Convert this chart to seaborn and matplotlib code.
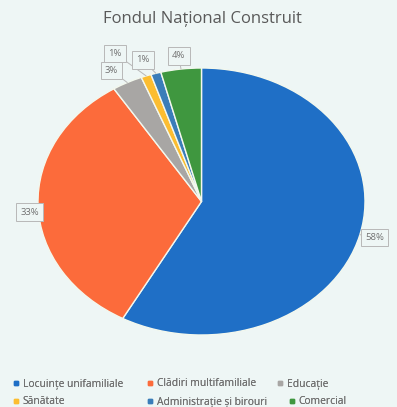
import matplotlib
matplotlib.use("Agg")
import matplotlib.pyplot as plt
import seaborn as sns
import numpy as np

categories = ["Locuințe unifamiliale", "Clădiri multifamiliale", "Educație",
              "Sănătate", "Administrație și birouri", "Comercial"]
shares = [58, 33, 3, 1, 1, 4]
pct_labels = ["58%", "33%", "3%", "1%", "1%", "4%"]
colors = ["#1f6fc6", "#fc6b3b", "#a8a6a4", "#fcbd30", "#3a7db9", "#3f973f"]

# label box positions (in pie data coordinates, unit circle)
label_pos = [(1.06, -0.27), (-1.05, -0.08), (-0.55, 0.98), (-0.53, 1.11),
             (-0.36, 1.06), (-0.14, 1.09)]

sns.set_theme(style="white")
plt.rcParams["font.family"] = ["Open Sans", "DejaVu Sans"]

bg = "#eef6f5"
W, H = 397, 407
fig = plt.figure(figsize=(W / 100, H / 100), dpi=100, facecolor=bg)

left, right, top, bottom = 38, 365, 68, 335
ax = fig.add_axes([left / W, (H - bottom) / H, (right - left) / W, (bottom - top) / H])
ax.set_facecolor(bg)

wedges, _ = ax.pie(shares, colors=colors, startangle=90, counterclock=False,
                   wedgeprops=dict(edgecolor="#f3f8ee", linewidth=1.0))
ax.set_aspect("auto")
ax.set_xlim(-1, 1)
ax.set_ylim(-1, 1)
ax.axis("off")

for w, lab, (lx, ly) in zip(wedges, pct_labels, label_pos):
    ang = np.deg2rad((w.theta1 + w.theta2) / 2)
    ex, ey = np.cos(ang), np.sin(ang)
    ax.annotate(lab, xy=(ex, ey), xytext=(lx, ly), ha="center", va="center",
                fontsize=6.8, color="#707070", annotation_clip=False,
                bbox=dict(boxstyle="square,pad=0.45", fc=bg, ec="#b8b8b8", lw=0.7),
                arrowprops=dict(arrowstyle="-", color="#b8b8b8", lw=0.7,
                                shrinkA=0, shrinkB=0))

fig.text(0.51, 1 - 19 / H, "Fondul Național Construit", ha="center", va="center",
         fontsize=12, color="#595959")

# legend entries laid out in two rows beneath the pie
legend_xy = [(12, 384), (146, 384), (276, 384), (12, 402), (146, 402), (288, 402)]
for i, (lx, ly) in enumerate(legend_xy):
    h = plt.Line2D([], [], marker="s", linestyle="", markersize=3.2,
                   markerfacecolor=colors[i], markeredgecolor=colors[i])
    fig.add_artist(fig.legend([h], [categories[i]], loc="center left",
                              bbox_to_anchor=(lx / W, 1 - ly / H), frameon=False,
                              fontsize=7.4, labelcolor="#707070", handletextpad=0.35,
                              handlelength=0.7, borderpad=0, borderaxespad=0))

fig.savefig("out.png", dpi=100, facecolor=bg)
